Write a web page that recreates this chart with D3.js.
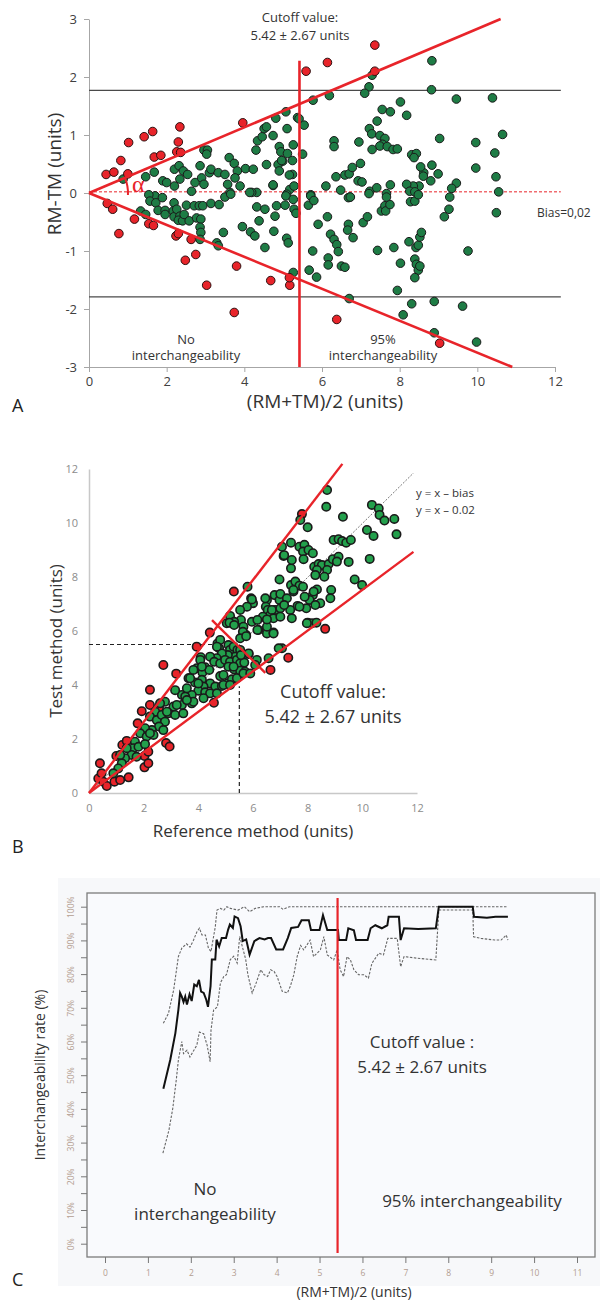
<!DOCTYPE html>
<html><head><meta charset="utf-8">
<script src="https://cdn.jsdelivr.net/npm/d3@7"></script>
<style>body{margin:0;background:#fff}</style>
</head><body><svg id="c" width="600" height="1301" xmlns="http://www.w3.org/2000/svg"></svg>
<script>
// ---------------- DATA ----------------
// Panel A: Bland-Altman style (x = (RM+TM)/2, y = RM-TM)
const aXTicks = [0,2,4,6,8,10,12];
const aYTicks = [-3,-2,-1,0,1,2,3];
const aRed = [[0.44,0.32],[0.64,0.36],[0.82,0.56],[1.02,0.87],[1.00,0.33],[1.42,0.97],[1.64,1.06],[1.68,0.62],[1.85,0.65],[2.34,1.14],[2.30,0.88],[2.26,0.71],[2.36,0.70],[3.96,1.21],
[7.36,2.55],[6.14,2.25],[5.59,2.10],[7.36,2.10],
[0.47,-0.18],[0.61,-0.28],[0.77,-0.70],[1.17,-0.45],[1.54,-0.53],[1.66,-0.56],[2.24,-0.74],[2.30,-0.70],[2.48,-1.16],[2.63,-0.80],[2.75,-1.06],[3.03,-1.59],[3.80,-1.26],[3.74,-2.06],[4.68,-1.51],[5.17,-1.59],[5.16,-1.46],
[6.38,-2.18],[9.03,-2.59]];
const aGreen = [[1.46,0.28],[1.68,0.36],[1.90,0.21],[2.20,0.41],[2.32,0.47],[2.43,0.38],[2.54,0.32],[2.34,0.24],[2.20,0.12],[2.73,0.18],[2.64,0.03],[2.86,0.47],[2.96,0.74],[3.05,0.74],[3.03,0.67],[2.90,0.26],[2.96,0.15],[3.10,0.35],[3.14,0.41],[3.33,0.35],[3.50,0.32],[3.61,0.61],[3.74,0.51],[3.82,0.38],[3.76,0.26],[3.89,0.12],[3.57,0.15],[3.63,0.01],[4.03,0.42],[4.23,0.41],[4.30,0.74],[4.34,0.90],[4.46,0.97],[4.51,1.11],[4.57,1.14],[4.74,0.99],[4.81,1.29],[5.07,1.40],[5.10,1.11],[4.90,0.80],[4.94,0.71],[5.11,0.68],[5.26,0.83],[4.87,0.49],[4.99,0.55],[5.24,0.56],[4.90,0.38],[5.24,0.32],[4.57,0.49],[4.74,0.13],[5.17,0.06],[5.28,0.12],[5.37,1.30],[4.32,0.01],[4.19,0.01],[0.88,0.24],
[8.83,2.28],[8.82,1.78],[9.46,1.62],[10.39,1.64],[10.65,1.01],[9.96,0.87],[10.45,0.69],[9.96,0.43],[10.48,0.28],[10.55,0.02],[9.03,0.94],[8.83,0.48],[8.99,0.33],[8.80,0.21],[9.46,0.17],[9.34,0.08],[9.29,-0.07],[8.62,0.35],[8.61,0.29],[8.54,0.45],[8.31,0.66],[8.43,0.68],[8.37,0.61],[8.50,0.12],[8.35,0.12],[8.18,0.15],[8.26,0.03],[8.39,0.02],[8.02,1.57],[8.18,1.34],[7.55,1.44],[7.76,1.40],[7.42,1.24],[7.22,1.11],[7.28,1.02],[7.49,0.99],[7.62,0.94],[7.56,0.84],[7.49,0.81],[7.68,0.80],[7.83,0.75],[7.94,0.76],[7.29,0.75],[6.95,0.88],[6.31,0.90],[6.31,0.80],[7.29,2.03],[7.21,1.83],[7.10,1.72],[6.19,1.68],[5.77,1.60],[5.41,1.28],[5.54,1.17],[5.50,0.67],[6.10,0.12],[6.36,0.28],[6.59,0.31],[6.70,0.33],[6.78,0.44],[6.99,0.51],[6.93,0.21],[7.03,0.19],[6.48,0.05],[7.23,0.03],[7.41,0.09],[7.76,0.14],[7.66,-0.01],[6.72,-0.07],[5.71,-0.03],[4.96,0.56],[5.09,-0.02],[5.16,0.31],
[1.70,-0.05],[1.54,-0.03],[1.57,-0.14],[1.72,-0.17],[1.78,-0.30],[1.89,-0.08],[1.96,-0.30],[1.96,-0.37],[2.19,-0.17],[2.17,-0.31],[2.19,-0.41],[2.26,-0.28],[2.34,-0.40],[2.30,-0.47],[2.41,-0.48],[2.45,-0.37],[2.51,-0.21],[2.58,-0.48],[2.71,-0.22],[2.84,-0.22],[2.93,-0.22],[2.77,-0.43],[2.88,-0.45],[2.86,-0.59],[2.88,-0.68],[2.86,-0.80],[3.14,-0.18],[3.35,-0.20],[3.46,-0.68],[3.29,-0.86],[3.33,-0.91],[3.50,-0.07],[3.65,-0.02],[3.95,-0.58],[4.16,-0.67],[4.27,-0.74],[4.14,0.01],[4.32,-0.24],[4.38,-0.48],[4.53,-0.28],[4.53,-0.94],[4.74,0.14],[4.79,-0.40],[4.83,-0.22],[4.76,-0.66],[5.05,-0.21],[5.09,-0.78],[5.13,-0.86],[5.07,-0.05],[5.26,-0.11],[5.28,-0.28],[5.33,-0.35],[5.26,-1.37],[2.00,0.18],[1.33,-0.31],[1.46,-0.37],
[5.71,-0.05],[5.65,-0.21],[5.79,-0.13],[5.90,-0.54],[5.76,-1.00],[5.67,-1.33],[5.86,-1.45],[6.14,-0.41],[6.22,-0.71],[6.31,-0.80],[6.38,-0.89],[6.42,-1.01],[6.16,-1.12],[6.16,-1.24],[6.50,-1.26],[6.59,-1.28],[6.68,-0.08],[6.73,-0.07],[6.68,-0.54],[6.66,-0.64],[6.80,-0.77],[7.06,-0.51],[7.17,-0.41],[7.21,-0.01],[7.53,-0.31],[7.62,-0.22],[7.64,-0.31],[7.75,-0.20],[7.66,-0.07],[7.43,-0.99],[7.85,-0.94],[8.02,-1.21],[7.94,-1.68],[8.24,-0.84],[8.28,-0.15],[8.39,-0.14],[8.48,-0.03],[8.42,-0.94],[8.48,-0.90],[8.52,-0.76],[8.56,-0.68],[8.39,-1.14],[8.43,-1.23],[8.48,-1.33],[8.39,-1.46],[8.52,-1.26],[8.31,-1.91],[8.09,-2.10],[8.89,-1.87],[8.89,-2.41],[9.62,-1.95],[9.98,-2.57],[9.76,-1.00],[9.15,-0.41],[9.27,-0.28],[10.49,-0.34],[6.70,-1.82]];
const aLimits = [1.77, -1.79];
const aBias = 0.02;
const aCutoff = 5.42;
const aCutoffTop = 2.28;
const aConeUpper = [[0,0],[10.6,3.0]];
const aConeLower = [[0,0],[10.9,-3.0]];

// Panel B: Test vs Reference
const bTicks = [0,2,4,6,8,10,12];
const bRed = [[0.34,0.54],[0.40,1.10],[0.46,0.73],[0.52,0.42],[0.65,0.26],[0.93,0.42],[1.0,1.37],[1.14,0.48],[1.45,0.58],[1.22,1.78],[1.38,1.93],[1.78,2.58],[1.93,3.03],[2.03,1.37],[2.03,0.95],[2.17,1.53],[2.17,1.10],[2.23,3.26],[2.56,3.17],[2.23,3.82],[2.72,4.74],[3.19,4.42],[2.82,1.85],[2.95,1.72],[3.94,5.42],[4.42,5.94],[4.57,3.34],[5.30,7.46],[6.64,4.56],[7.29,5.01],[8.64,6.08],[7.79,10.33]];
const bGreen = [[8.71,11.22],[8.68,10.60],[8.00,9.84],[7.73,10.11],[9.29,10.23],[10.35,10.67],[10.60,10.54],[10.63,10.30],[10.81,10.09],[11.17,10.15],[10.17,9.74],[10.41,9.52],[11.25,9.58],[10.27,8.67],[9.72,7.91],[9.99,7.70],[9.50,8.56],[7.06,9.12],[7.39,9.27],[7.12,8.78],[7.39,8.32],[7.42,8.63],[7.70,9.12],[7.88,9.19],[7.83,8.94],[8.03,9.00],[8.19,8.88],[7.85,8.66],[8.95,9.37],[9.13,9.40],[9.26,9.33],[9.41,9.27],[9.58,9.37],[8.24,8.38],[8.40,8.48],[8.52,8.44],[8.77,8.48],[8.92,8.66],[9.13,8.75],[9.07,8.57],[8.34,8.26],[8.71,8.26],[8.28,8.07],[8.61,8.01],[6.97,7.91],[7.39,7.70],[7.55,7.83],[7.70,7.68],[7.83,7.64],[7.48,7.46],[8.34,7.54],[8.19,7.33],[8.07,7.15],[7.89,7.27],[8.86,7.52],[8.83,7.21],[8.46,7.03],[8.28,6.96],[7.95,6.84],[7.63,6.93],[7.36,6.78],[6.79,7.33],[6.97,7.15],[7.00,7.37],[6.51,7.15],[6.47,6.90],[6.54,6.78],[6.81,6.78],[6.63,6.59],[6.36,6.53],[5.93,7.21],[6.00,7.03],[5.78,6.90],[5.53,6.78],[5.96,6.34],[5.56,6.41],[5.16,6.56],[5.04,6.29],[5.31,6.34],[6.20,6.04],[6.51,5.91],[6.75,5.94],[5.65,6.16],[5.75,5.85],[8.00,6.31],[8.16,6.29],[8.32,6.31],[5.80,7.64],
[5.14,6.31],[5.31,6.22],[5.63,5.97],[5.53,5.73],[5.75,5.81],[6.16,6.04],[6.51,6.16],[7.06,5.36],[4.70,5.54],[4.76,5.36],[5.10,5.48],[5.16,5.30],[5.29,5.42],[5.43,5.30],[5.51,5.11],[5.35,5.05],[5.08,5.11],[4.86,5.17],[4.67,4.99],[4.43,5.05],[4.09,5.03],[4.58,4.86],[4.80,4.80],[4.98,4.93],[5.16,4.86],[5.41,4.93],[5.53,4.80],[5.68,4.83],[5.84,5.15],[6.14,4.93],[6.08,4.74],[5.10,4.68],[5.31,4.58],[5.53,4.53],[5.71,4.49],[4.80,4.33],[4.25,4.66],[3.94,4.62],[4.15,4.46],[4.40,4.56],[3.67,4.25],[3.88,4.09],[4.13,4.19],[4.43,4.06],[4.62,3.94],[4.86,3.96],[5.07,4.06],[5.23,4.21],[5.41,4.25],[4.19,3.94],[4.00,3.79],[3.76,3.63],[3.40,3.63],[3.15,3.81],[4.25,3.73],[4.43,3.69],[4.68,3.69],[4.07,4.93],[7.14,8.81],[7.24,7.21],[6.45,7.21],[5.96,7.17],[6.69,6.78],[7.00,6.84],[7.14,6.96],[6.75,6.47],[7.00,6.53],[7.42,6.47],[6.51,6.43],[6.16,6.41],[7.70,6.90],[8.22,7.46],[7.48,7.52],
[3.52,3.57],[3.40,3.26],[3.09,3.20],[2.78,3.38],[2.60,3.32],[2.42,3.01],[2.23,2.83],[2.48,2.70],[2.66,2.89],[2.90,2.95],[2.78,2.64],[2.56,2.46],[2.30,2.33],[2.05,2.40],[1.87,2.21],[2.11,2.09],[2.36,2.15],[1.68,1.90],[1.62,1.66],[1.81,1.71],[2.05,1.81],[1.56,1.41],[3.76,3.32],[4.19,3.51],[3.15,2.89],[1.32,1.29],[1.20,1.10],[3.64,4.25],
[4.92,4.00],[3.82,3.38],[3.58,3.44],[3.45,2.95],[3.21,3.26],[2.85,3.01],[2.72,2.33],[2.23,2.21],[1.38,1.66],[1.14,1.41],[1.07,0.91],[0.89,0.73],[1.74,1.34],[3.58,3.88],[4.00,4.06],[3.82,4.56],[4.13,4.68],[3.70,4.25],[4.80,5.67],[4.68,5.42],[5.53,5.30],[5.84,5.17],[5.29,4.68],[5.16,4.00],[4.92,4.37],[5.65,4.43],[5.90,4.43],[5.56,5.11],[6.57,4.99],[6.94,5.36],[6.75,5.91],[7.97,6.29]];
const bConeUpper = [[0,0],[9.27,12.19]];
const bConeLower = [[0,0],[11.87,8.93]];
const bPerp = [[4.5,6.4],[6.45,4.45]];
const bIdentity = [[0,0],[11.87,11.85]];
const bDashH = [[0,5.5],[4.55,5.5]];
const bDashV = [[5.5,0],[5.5,3.95]];

// Panel C: interchangeability rate (%) vs (RM+TM)/2
const cXTicks = [0,1,2,3,4,5,6,7,8,9,10,11];
const cYTicks = [0,5,10,15,20,25,30,35,40,45,50,55,60,65,70,75,80,85,90,95,100];
const cRate = [[1.36,46],[1.52,54.5],[1.64,62.5],[1.71,69.4],[1.75,74.4],[1.79,73.3],[1.83,71.7],[1.87,73.3],[1.91,71],[1.97,74],[2.02,72],[2.08,76.9],[2.14,76.4],[2.19,78.3],[2.24,74.8],[2.30,74.4],[2.36,72.4],[2.40,70.3],[2.46,76.4],[2.49,84.3],[2.57,84.3],[2.60,90.2],[2.66,88.2],[2.72,90.7],[2.82,90.7],[2.87,93.2],[2.91,94.7],[2.98,93.7],[3.02,97.1],[3.10,96.6],[3.16,94.2],[3.21,89.8],[3.29,90.3],[3.37,85.8],[3.48,89.8],[3.60,90.7],[3.72,90.3],[3.80,90.7],[3.87,90.7],[3.99,87.3],[4.15,87.3],[4.26,90.7],[4.34,93.7],[4.50,94],[4.58,96],[4.75,96],[4.80,93.1],[5.00,93.1],[5.08,97.5],[5.18,93.1],[5.43,93.1],[5.45,90.1],[5.62,90.1],[5.67,93.6],[5.80,93],[5.85,90.1],[6.12,90.1],[6.19,93.6],[6.30,94.5],[6.45,93.6],[6.58,94.5],[6.61,97],[6.85,97],[6.89,90.1],[6.97,93.6],[7.30,93.4],[7.71,93.6],[7.78,100],[8.57,100],[8.60,97],[8.90,96.7],[9.10,97],[9.39,97]];
const cUpper = [[1.36,65.4],[1.48,68.4],[1.60,75.3],[1.71,85.2],[1.79,87.7],[1.90,89],[1.98,88],[2.06,90],[2.14,92.5],[2.20,93.6],[2.26,91.6],[2.34,91.6],[2.41,87.7],[2.47,86.7],[2.57,94],[2.61,99],[2.69,99.5],[2.77,99],[2.84,100],[2.92,99.5],[3.10,99],[3.25,100],[3.37,98.5],[3.50,99.5],[3.70,100],[4.07,100],[4.15,99.2],[4.30,100],[5.0,100],[6.0,100],[7.0,100],[8.0,100],[9.39,100]];
const cLower = [[1.35,26.9],[1.49,33.7],[1.58,40.2],[1.66,48.5],[1.71,54.5],[1.79,60],[1.83,56.4],[1.91,57.4],[1.98,55.4],[2.14,58.9],[2.20,62.8],[2.30,62.3],[2.38,58.9],[2.45,54],[2.47,63.3],[2.53,69.3],[2.62,70.3],[2.69,77.4],[2.77,79.3],[2.83,79.8],[2.92,84.3],[3.00,85.3],[3.08,83.3],[3.14,91.2],[3.20,88.2],[3.28,84.3],[3.33,79.8],[3.43,74.4],[3.51,76.9],[3.63,81.3],[3.71,79.8],[3.79,79.3],[3.86,81.3],[3.94,80.8],[4.01,79.3],[4.13,74.9],[4.25,74.4],[4.32,76.4],[4.40,79.8],[4.48,85.3],[4.56,88.5],[4.63,87.2],[4.78,90.1],[4.86,85.2],[5.02,87.2],[5.10,91.1],[5.18,85.7],[5.33,84.2],[5.41,87.2],[5.48,81.3],[5.56,79.3],[5.64,85.2],[5.72,84.2],[5.80,81.3],[5.91,79.8],[6.03,79.8],[6.14,78.8],[6.22,83.2],[6.38,86.2],[6.49,85.7],[6.59,90.6],[6.81,90.6],[6.89,82.2],[6.97,85.2],[7.28,84.7],[7.71,84.2],[7.78,99],[8.57,99],[8.59,91.1],[8.76,90.6],[9.08,90.1],[9.23,90.1],[9.35,91.6],[9.39,90.1]];
const cCutoff = 5.42;

// ---------------- DRAW ----------------
const svg = d3.select('#c');
const F = "'Open Sans', 'Noto Sans', sans-serif";
const RED = '#e8242a';
const intFmt = d => String(d);

function txt(g, x, y, s, size, opts = {}) {
  return g.append('text').attr('x', x).attr('y', y).text(s)
    .attr('font-family', F).attr('font-size', size)
    .attr('fill', opts.fill || '#333')
    .attr('text-anchor', opts.anchor || 'middle')
    .attr('transform', opts.rotate ? `rotate(-90,${x},${y})` : null);
}

// ===== Panel A =====
const xA = d3.scaleLinear().domain([0,12]).range([89,555]);
const yA = d3.scaleLinear().domain([-3,3]).range([367,19]);
const gA = svg.append('g');
const lineA = d3.line().x(d => xA(d[0])).y(d => yA(d[1]));

const axAL = gA.append('g').attr('transform', `translate(${xA(0)},0)`)
  .call(d3.axisLeft(yA).tickValues(aYTicks).tickSize(5).tickSizeOuter(0).tickFormat(intFmt));
const axAB = gA.append('g').attr('transform', `translate(0,${yA(-3)})`)
  .call(d3.axisBottom(xA).tickValues(aXTicks).tickSize(5).tickSizeOuter(0).tickFormat(intFmt));
[axAL, axAB].forEach(a => {
  a.select('.domain').attr('stroke', '#a6a6a6');
  a.selectAll('.tick line').attr('stroke', '#a6a6a6');
  a.selectAll('.tick text').attr('font-family', F).attr('font-size', 13).attr('fill', '#404040');
});
axAL.selectAll('.tick text').attr('x', -12);
axAB.selectAll('.tick text').attr('y', 10);

aLimits.forEach(v => gA.append('path').attr('d', lineA([[0,v],[12.15,v]]))
  .attr('stroke', '#4a4a4a').attr('stroke-width', 1.2).attr('fill', 'none'));
gA.append('path').attr('d', lineA([[0,aBias],[12.15,aBias]]))
  .attr('stroke', RED).attr('stroke-width', 1).attr('stroke-dasharray', '3,2').attr('fill', 'none');

gA.append('g').selectAll('circle').data(aGreen).join('circle')
  .attr('cx', d => xA(d[0])).attr('cy', d => yA(d[1])).attr('r', 4.3)
  .attr('fill', '#1e7c45').attr('stroke', '#1a1a1a').attr('stroke-width', 1);
gA.append('g').selectAll('circle').data(aRed).join('circle')
  .attr('cx', d => xA(d[0])).attr('cy', d => yA(d[1])).attr('r', 4.3)
  .attr('fill', RED).attr('stroke', '#2a1010').attr('stroke-width', 1);

[aConeUpper, aConeLower].forEach(l => gA.append('path').attr('d', lineA(l))
  .attr('stroke', RED).attr('stroke-width', 2.6).attr('fill', 'none'));
gA.append('path').attr('d', lineA([[aCutoff,-3],[aCutoff,aCutoffTop]]))
  .attr('stroke', RED).attr('stroke-width', 2.6).attr('fill', 'none');

// angle arc
{
  const cx = xA(0), cy = yA(0);
  const ang = Math.atan2(yA(aConeUpper[1][1]) - cy, xA(aConeUpper[1][0]) - cx);
  const p = d3.path(); p.arc(cx, cy, 39, ang, 0.05, false);
  gA.append('path').attr('d', p.toString()).attr('stroke', RED).attr('stroke-width', 2).attr('fill', 'none');
  gA.append('text').attr('x', cx + 43).attr('y', cy - 1).text('α')
    .attr('font-family', "'Liberation Serif', serif").attr('font-size', 24).attr('fill', RED);
}

txt(gA, 300, 22, 'Cutoff value:', 13);
txt(gA, 300, 40, '5.42 ± 2.67 units', 13);
txt(gA, 537, 217, 'Bias=0,02', 12, {anchor: 'start'});
txt(gA, 186, 344, 'No', 13);
txt(gA, 186, 360, 'interchangeability', 13);
txt(gA, 383, 344, '95%', 13);
txt(gA, 383, 360, 'interchangeability', 13);
txt(gA, 61, 174, 'RM-TM (units)', 19, {rotate: true});
txt(gA, 325, 408, '(RM+TM)/2 (units)', 19);
txt(gA, 12, 412, 'A', 18, {anchor: 'start', fill: '#222'});

// ===== Panel B =====
const xB = d3.scaleLinear().domain([0,12]).range([89,417]);
const yB = d3.scaleLinear().domain([0,12]).range([793,469]);
const gB = svg.append('g');
const lineB = d3.line().x(d => xB(d[0])).y(d => yB(d[1]));

const axBL = gB.append('g').attr('transform', `translate(${xB(0)},0)`)
  .call(d3.axisLeft(yB).tickValues(bTicks).tickSize(0).tickSizeOuter(0).tickFormat(intFmt));
const axBB = gB.append('g').attr('transform', `translate(0,${yB(0)})`)
  .call(d3.axisBottom(xB).tickValues(bTicks).tickSize(0).tickSizeOuter(0).tickFormat(intFmt));
[axBL, axBB].forEach(a => {
  a.select('.domain').attr('stroke', '#c8c8c8').attr('stroke-width', 1.5);
  a.selectAll('.tick text').attr('font-family', F).attr('font-size', 11).attr('fill', '#8c8c8c');
});
axBL.selectAll('.tick text').attr('x', -11);
axBB.selectAll('.tick text').attr('y', 11);

gB.append('path').attr('d', lineB(bIdentity)).attr('stroke', '#555').attr('stroke-width', 0.8)
  .attr('stroke-dasharray', '2,1.5').attr('fill', 'none');
[bDashH, bDashV].forEach(l => gB.append('path').attr('d', lineB(l)).attr('stroke', '#222')
  .attr('stroke-width', 1.2).attr('stroke-dasharray', '4,3').attr('fill', 'none'));

gB.append('g').selectAll('circle').data(bRed).join('circle')
  .attr('cx', d => xB(d[0])).attr('cy', d => yB(d[1])).attr('r', 4.2)
  .attr('fill', RED).attr('stroke', '#1a1a1a').attr('stroke-width', 1.6);
gB.append('g').selectAll('circle').data(bGreen).join('circle')
  .attr('cx', d => xB(d[0])).attr('cy', d => yB(d[1])).attr('r', 4.2)
  .attr('fill', '#23a04c').attr('stroke', '#1a1a1a').attr('stroke-width', 1.6);

[bConeUpper, bConeLower, bPerp].forEach(l => gB.append('path').attr('d', lineB(l))
  .attr('stroke', RED).attr('stroke-width', 2.4).attr('fill', 'none'));

txt(gB, 416, 497, 'y = x – bias', 11.5, {anchor: 'start'});
txt(gB, 416, 514, 'y = x – 0.02', 11.5, {anchor: 'start'});
txt(gB, 333, 698, 'Cutoff value:', 18);
txt(gB, 333, 723, '5.42 ± 2.67 units', 18);
txt(gB, 62, 641, 'Test method (units)', 17, {rotate: true});
txt(gB, 253, 837, 'Reference method (units)', 17);
txt(gB, 12, 853, 'B', 18, {anchor: 'start', fill: '#222'});

// ===== Panel C =====
const xC = d3.scaleLinear().domain([0,11]).range([105,577]);
const yC = d3.scaleLinear().domain([0,100]).range([1243.7,906.7]);
const gC = svg.append('g');
const lineC = d3.line().x(d => xC(d[0])).y(d => yC(d[1]));

gC.append('rect').attr('x', 58).attr('y', 878).attr('width', 542).attr('height', 408).attr('fill', '#f7f8fa');
gC.append('rect').attr('x', 87).attr('y', 893).attr('width', 508).attr('height', 364)
  .attr('fill', '#f9fafd').attr('stroke', '#7c7c7c').attr('stroke-width', 1.3);

const axCL = gC.append('g').attr('transform', 'translate(87,0)')
  .call(d3.axisLeft(yC).tickValues(cYTicks).tickSize(6).tickSizeOuter(0)
    .tickFormat(d => d % 10 === 0 ? d + '%' : ''));
axCL.select('.domain').remove();
axCL.selectAll('.tick line').attr('stroke', '#777');
axCL.selectAll('.tick text').attr('x', null).attr('dy', null)
  .attr('transform', 'translate(-13,0) rotate(-90)').attr('text-anchor', 'middle')
  .attr('font-family', F).attr('font-size', 8.5).attr('fill', '#b39d90');

const axCB = gC.append('g').attr('transform', 'translate(0,1257)')
  .call(d3.axisBottom(xC).tickValues(cXTicks).tickSize(6).tickSizeOuter(0).tickFormat(intFmt));
axCB.select('.domain').remove();
axCB.selectAll('.tick line').attr('stroke', '#777');
axCB.selectAll('.tick text').attr('y', 13).attr('font-family', F).attr('font-size', 8.5).attr('fill', '#b39d90');

gC.append('path').attr('d', lineC(cUpper)).attr('stroke', '#666').attr('stroke-width', 1.1)
  .attr('stroke-dasharray', '2.5,1.5').attr('fill', 'none');
gC.append('path').attr('d', lineC(cLower)).attr('stroke', '#666').attr('stroke-width', 1.1)
  .attr('stroke-dasharray', '2.5,1.5').attr('fill', 'none');
gC.append('path').attr('d', lineC(cRate)).attr('stroke', '#111').attr('stroke-width', 2).attr('fill', 'none');

gC.append('line').attr('x1', xC(cCutoff)).attr('x2', xC(cCutoff)).attr('y1', 898).attr('y2', 1253)
  .attr('stroke', RED).attr('stroke-width', 2.2);

txt(gC, 422, 1048, 'Cutoff value :', 17);
txt(gC, 422, 1073, '5.42 ± 2.67 units', 17);
txt(gC, 205, 1195, 'No', 17);
txt(gC, 205, 1220, 'interchangeability', 17);
txt(gC, 472, 1207, '95% interchangeability', 17);
txt(gC, 45, 1075, 'Interchangeability rate (%)', 14, {rotate: true});
txt(gC, 354, 1297, '(RM+TM)/2 (units)', 14);
txt(gC, 12, 1286, 'C', 18, {anchor: 'start', fill: '#222'});
</script>
</body></html>
